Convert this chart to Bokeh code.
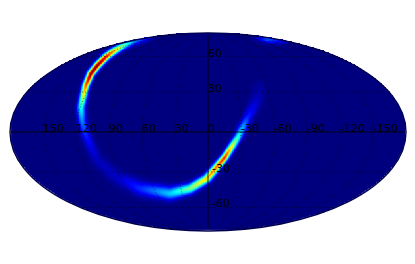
import numpy as np
from bokeh.plotting import figure
from bokeh.models import LinearColorMapper, ColumnDataSource
from bokeh.core.properties import value
from bokeh.embed import file_html
from bokeh.resources import INLINE

# Sky-map arc: ridge (longitude, latitude, intensity 0-1, width)
arc_lon = [176, 165.5, 155, 145.9, 141, 135, 131.5, 125.7, 121, 119.3, 115.6, 111.3, 109.7, 105.3,
           93.1, 75.2, 44.1, 19.9, 1.3, -15.9, -27.2, -36.5, -46.6, -52.4]
arc_lat = [81.5, 75.7, 70.6, 64.4, 59, 51.4, 44.2, 34.7, 24.4, 17.8, 8.1, -2.9, -6.6, -21.6,
           -34.5, -43.7, -47.8, -43.7, -35.5, -19.1, -4.4, 10.3, 23.1, 33.1]
arc_val = [0.06, 0.28, 0.48, 0.72, 0.88, 1.0, 0.98, 0.8, 0.55, 0.4, 0.26, 0.16, 0.13, 0.06,
           0.07, 0.17, 0.33, 0.5, 0.68, 0.85, 0.42, 0.16, 0.07, 0.03]
arc_wid = [0.028, 0.026, 0.025, 0.025, 0.024, 0.024, 0.024, 0.024, 0.026, 0.028, 0.03, 0.033, 0.034, 0.042,
           0.05, 0.05, 0.044, 0.034, 0.029, 0.024, 0.027, 0.033, 0.042, 0.05]
# Faint patch near the top edge
patch_lon = [-135, -147, -167]
patch_lat = [80.4, 78, 75.4]
patch_val = [0.05, 0.22, 0.1]
patch_wid = [0.025, 0.025, 0.022]

lon_ticks = [150, 120, 90, 60, 30, 0, -30, -60, -90, -120, -150]
lat_ticks = [60, 30, -30, -60]


def mollweide(lon, lat):
    lon, lat = np.asarray(lon, float), np.radians(np.asarray(lat, float))
    t = lat.copy()
    for _ in range(30):
        d = 2 * t + np.sin(2 * t) - np.pi * np.sin(lat)
        t = t - d / (2 + 2 * np.cos(2 * t) + 1e-9)
    # sky longitude increases to the left
    return -lon / 90.0 * np.cos(t), np.sin(t)


def jet_palette(n=256):
    s = np.linspace(0, 1, n)
    r = np.clip(np.minimum(4 * s - 1.5, -4 * s + 4.5), 0, 1)
    g = np.clip(np.minimum(4 * s - 0.5, -4 * s + 3.5), 0, 1)
    b = np.clip(np.minimum(4 * s + 0.5, -4 * s + 2.5), 0, 1)
    return ["#%02x%02x%02x" % (int(a * 255), int(c * 255), int(e * 255)) for a, c, e in zip(r, g, b)]


gx, gy = np.meshgrid(np.linspace(-2, 2, 600), np.linspace(-1, 1, 300))
field = np.zeros_like(gx)
for lo, la, va, wi in [(arc_lon, arc_lat, arc_val, arc_wid), (patch_lon, patch_lat, patch_val, patch_wid)]:
    px, py = mollweide(lo, la)
    for i in range(len(px) - 1):
        dx, dy = px[i + 1] - px[i], py[i + 1] - py[i]
        f = np.clip(((gx - px[i]) * dx + (gy - py[i]) * dy) / (dx * dx + dy * dy), 0, 1)
        dist2 = (gx - px[i] - f * dx) ** 2 + (gy - py[i] - f * dy) ** 2
        amp = va[i] + f * (va[i + 1] - va[i])
        sig = wi[i] + f * (wi[i + 1] - wi[i])
        field = np.maximum(field, amp * np.exp(-dist2 / (2 * sig * sig)))
field[(gx / 2) ** 2 + gy ** 2 > 1] = np.nan

p = figure(width=407, height=240, x_range=(-2.096, 2.015), y_range=(-1.096, 1.3283),
           output_backend="svg", toolbar_location=None, min_border=0,
           x_axis_type=None, y_axis_type=None, outline_line_color=None,
           background_fill_color="white", border_fill_color="white")
p.grid.visible = False

mapper = LinearColorMapper(palette=jet_palette(), low=0, high=1, nan_color=(0, 0, 0, 0))
p.image(image=[field], x=-2, y=-1, dw=4, dh=2, color_mapper=mapper)

# Edge of the sky
p.ellipse(x=[0], y=[0], width=[4], height=[2], fill_color=None, line_color="#000050", line_width=1.4)

# Graticule
for lon in lon_ticks:
    mx, my = mollweide(np.full(171, lon), np.arange(-85, 86))
    if lon == 0:
        p.line(mx, my, line_color="black", line_width=1, line_alpha=0.9)
    else:
        p.line(mx, my, line_color="black", line_width=0.7, line_alpha=0.8, line_dash="1 2")
for lat in lat_ticks:
    mx, my = mollweide(np.arange(-180, 181), np.full(361, lat))
    p.line(mx, my, line_color="black", line_width=0.7, line_alpha=0.8, line_dash="1 2")
mx, my = mollweide(np.arange(-180, 181), np.zeros(361))
p.line(mx, my, line_color="black", line_width=1, line_alpha=0.9)

# Tick labels
lx, ly = mollweide(lon_ticks, np.zeros(len(lon_ticks)))
p.text(lx, ly, text=[str(v) for v in lon_ticks], text_font=value("DejaVu Sans"), text_font_size="11px",
       text_align="left", text_baseline="bottom", text_color="black")
bx, by = mollweide(np.zeros(len(lat_ticks)), lat_ticks)
src = ColumnDataSource(dict(x=bx, y=by, t=[str(v) for v in lat_ticks], off=[4 if v < 0 else 0 for v in lat_ticks]))
p.text("x", "y", text="t", x_offset="off", source=src, text_font=value("DejaVu Sans"), text_font_size="11px",
       text_align="left", text_baseline="bottom", text_color="black")

open("out.html", "w").write(file_html(p, INLINE))
